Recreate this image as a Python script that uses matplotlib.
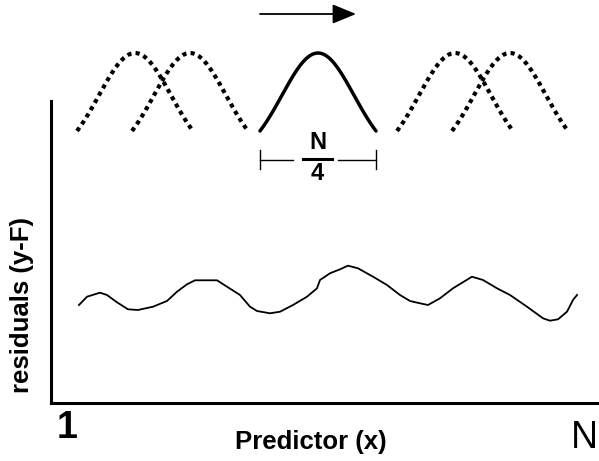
import matplotlib
matplotlib.use('Agg')
import matplotlib.pyplot as plt
import numpy as np

plt.rcParams['font.family'] = ['Liberation Sans', 'DejaVu Sans']

# residual trace (predictor index, residual value)
pred_x = [13, 21, 34, 41, 51, 62, 72, 87, 101, 111, 121, 129, 151, 161, 174,
          184, 191, 204, 214, 227, 241, 251, 254, 264, 274, 282, 292, 307, 321,
          334, 344, 354, 362, 374, 387, 406, 417, 431, 444, 461, 477, 484, 492,
          501, 507, 511]
resid = [-0.5, 0.33, 0.73, 0.5, -0.23, -0.93, -1.0, -0.67, -0.1, 0.83, 1.57,
         1.97, 1.97, 1.33, 0.5, -0.67, -1.1, -1.33, -1.17, -0.5, 0.33, 1.17,
         2.0, 2.67, 3.07, 3.43, 3.17, 2.33, 1.5, 0.5, -0.1, -0.33, -0.5, 0.17,
         1.17, 2.33, 2.0, 1.17, 0.5, -0.67, -1.83, -2.07, -1.93, -1.17, 0.0, 0.5]

N = 522
# sliding windows: centres along predictor, the active one is solid
win_centres = [69, 124, 252, 389, 444]
win_active = [False, False, True, False, False]
win_half = 58          # half of N/4 span
win_sigma = 36
win_base, win_height = 16.9, 7.8

fig = plt.figure(figsize=(5.99, 4.61), dpi=100)
ax = fig.add_axes([51 / 599, 58 / 461, 548 / 599, 302 / 461])
ax.set_xlim(-15, 533)
ax.set_ylim(-10.3, 19.9)
for s in ['top', 'right']:
    ax.spines[s].set_visible(False)
for s in ['left', 'bottom']:
    ax.spines[s].set_linewidth(2.2)
ax.set_xticks([])
ax.set_yticks([])

ax.plot(pred_x, resid, color='black', lw=1.3, solid_joinstyle='round')

# window shapes above the plot
e0 = np.exp(-0.5 * (win_half / win_sigma) ** 2)
for c, act in zip(win_centres, win_active):
    xx = np.linspace(c - win_half, c + win_half, 200)
    g = np.exp(-0.5 * ((xx - c) / win_sigma) ** 2)
    yy = win_base + win_height * (g - e0) / (1 - e0)
    if act:
        ax.plot(xx, yy, color='black', lw=2.5, clip_on=False,
                solid_capstyle='round')
    else:
        ax.plot(xx, yy, color='black', lw=3.0, clip_on=False,
                linestyle=(0, (1.0, 1.0)))

# N/4 bracket under active window
cx = win_centres[2]
yb = 14.0
ax.plot([cx - win_half, cx - 25], [yb, yb], color='black', lw=1.0, clip_on=False)
ax.plot([cx + 20, cx + win_half], [yb, yb], color='black', lw=1.0, clip_on=False)
for xe in [cx - win_half, cx + win_half]:
    ax.plot([xe, xe], [yb - 0.95, yb + 0.95], color='black', lw=1.0, clip_on=False)
ax.plot([cx - 15, cx + 14], [14.1, 14.1], color='black', lw=2.2, clip_on=False)
ax.text(cx - 0.5, 15.75, 'N', ha='center', va='center', fontsize=17,
        fontweight='bold', clip_on=False)
ax.text(cx - 0.5, 12.6, '4', ha='center', va='center', fontsize=17,
        fontweight='bold', clip_on=False)

# direction arrow
ax.annotate('', xy=(290, 28.6), xytext=(194, 28.6), annotation_clip=False,
            arrowprops=dict(arrowstyle='-|>,head_length=1.45,head_width=0.6',
                            color='black', lw=1.3, mutation_scale=10,
                            shrinkA=0, shrinkB=0))

# labels
ax.text(1, -12.8, '1', ha='center', va='center', fontsize=27,
        fontweight='bold', clip_on=False)
ax.text(532, -13.8, 'N', ha='right', va='center', fontsize=27, clip_on=False)
ax.text(245, -14.2, 'Predictor (x)', ha='center', va='center', fontsize=18.5,
        fontweight='bold', clip_on=False)
ax.text(-44, -0.5, 'residuals (y-F)', ha='center', va='center', fontsize=18.5,
        fontweight='bold', rotation=90, clip_on=False)

fig.savefig('out.png', dpi=100, facecolor='white')
